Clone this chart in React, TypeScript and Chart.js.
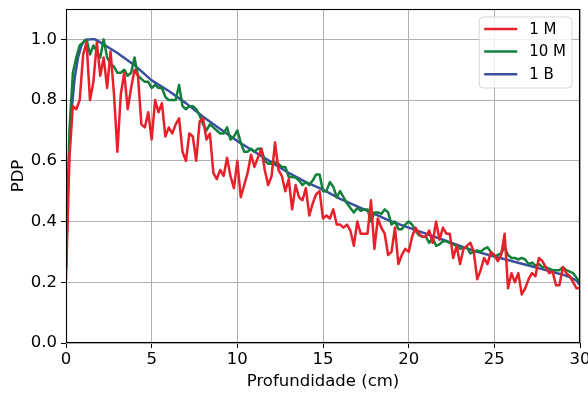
import { useEffect, useRef } from "react";
import { Chart, registerables } from "chart.js";

Chart.register(...registerables);

// ---- data ----
const seriesLabels = ["1 M", "10 M", "1 B"];
const seriesColors = ["#e8202a", "#12803a", "#3b4ea0"];
const depthStep = 0.2; // sampling grid (cm) of the 1 M and 10 M curves

const pdp1M = [
  0.21, 0.61, 0.78, 0.77, 0.80, 0.95, 0.99, 0.80, 0.86, 0.99,
  0.88, 0.94, 0.84, 0.96, 0.82, 0.63, 0.82, 0.89, 0.77, 0.84,
  0.90, 0.88, 0.72, 0.71, 0.76, 0.67, 0.80, 0.76, 0.79, 0.68,
  0.71,
  0.69, 0.72, 0.74, 0.63, 0.60, 0.69, 0.68, 0.60, 0.73, 0.74,
  0.67, 0.69, 0.56, 0.54, 0.57, 0.55, 0.61, 0.55, 0.51, 0.60,
  0.48, 0.52, 0.56, 0.62, 0.58, 0.61, 0.64, 0.57, 0.52, 0.55,
  0.66, 0.57, 0.55, 0.50, 0.54, 0.44, 0.52, 0.48, 0.47, 0.51,
  0.42, 0.46, 0.49, 0.50, 0.41, 0.42, 0.41, 0.44, 0.39, 0.39,
  0.38, 0.39, 0.37, 0.32, 0.40, 0.36, 0.36, 0.36, 0.47, 0.31,
  0.41, 0.38, 0.36, 0.29, 0.30, 0.38, 0.26, 0.29, 0.31, 0.30,
  0.35, 0.38, 0.36, 0.35, 0.35, 0.37, 0.33, 0.40, 0.34, 0.38,
  0.36, 0.36, 0.28, 0.32, 0.26, 0.31, 0.32, 0.33, 0.30, 0.21,
  0.24, 0.28, 0.26, 0.30, 0.29, 0.27, 0.29, 0.36, 0.18, 0.23,
  0.20, 0.23, 0.16, 0.18, 0.21, 0.23, 0.22, 0.28, 0.27, 0.25,
  0.23, 0.235, 0.19, 0.19, 0.25, 0.23, 0.22, 0.20, 0.18, 0.18,
];

const pdp10M = [
  0.25, 0.70, 0.89, 0.94, 0.98, 0.99, 1.00, 0.95, 0.98, 0.96,
  0.94, 1.00, 0.94, 0.92, 0.91, 0.89, 0.89, 0.90, 0.88, 0.89,
  0.94, 0.88, 0.87, 0.86, 0.86, 0.84, 0.85, 0.84, 0.84, 0.81,
  0.80,
  0.80, 0.80, 0.85, 0.78, 0.77, 0.78, 0.78, 0.77, 0.75, 0.72,
  0.70, 0.72, 0.71, 0.70, 0.69, 0.69, 0.71, 0.67, 0.68, 0.70,
  0.66, 0.63, 0.63, 0.64, 0.63, 0.64, 0.64, 0.60, 0.59, 0.59,
  0.595, 0.59, 0.58, 0.58, 0.547, 0.547, 0.545, 0.535, 0.52, 0.53,
  0.52, 0.535, 0.555, 0.555, 0.50, 0.50, 0.53, 0.515, 0.48, 0.50,
  0.48, 0.46, 0.445, 0.43, 0.445, 0.435, 0.44, 0.44, 0.40, 0.43,
  0.43, 0.425, 0.44, 0.43, 0.39, 0.40, 0.375, 0.375, 0.39, 0.40,
  0.39, 0.37, 0.355, 0.35, 0.35, 0.33, 0.345, 0.32, 0.325, 0.335,
  0.335, 0.33, 0.325, 0.32, 0.31, 0.315, 0.315, 0.295, 0.30, 0.305,
  0.30, 0.31, 0.315, 0.30, 0.285, 0.29, 0.295, 0.315, 0.29, 0.28,
  0.28, 0.275, 0.28, 0.275, 0.26, 0.265, 0.255, 0.26, 0.25, 0.25,
  0.245, 0.24, 0.24, 0.24, 0.25, 0.24, 0.235, 0.23, 0.215, 0.20,
];

const depth1B = [
  0, 0.1, 0.2, 0.35, 0.5, 0.7, 0.9, 1.1, 1.4, 1.7, 2, 3, 4, 5, 6, 7, 8, 9, 10,
  11, 12, 13, 14, 15, 16, 17, 18, 19, 20, 21, 22, 23, 24, 25, 26, 27, 28, 29,
  29.5, 29.8, 30,
];
const pdp1B = [
  0.25, 0.48, 0.64, 0.78, 0.87, 0.94, 0.98, 0.997, 1.0, 1.0, 0.99, 0.955,
  0.915, 0.865, 0.83, 0.79, 0.745, 0.705, 0.665, 0.63, 0.595, 0.56, 0.53,
  0.505, 0.475, 0.45, 0.425, 0.40, 0.38, 0.36, 0.34, 0.32, 0.30, 0.285, 0.27,
  0.255, 0.24, 0.225, 0.215, 0.205, 0.19,
];

const xLabel = "Profundidade (cm)";
const yLabel = "PDP";

// ---- chart ----
const FONT = "'DejaVu Sans', sans-serif";
const axisFont = { family: FONT, size: 16.5 };

const zeroPad = (s: any) => {
  s.paddingLeft = 0;
  s.paddingRight = 0;
  s.paddingTop = 0;
  s.paddingBottom = 0;
};

const framePlugin = {
  id: "frameAndLegend",
  afterDatasetsDraw(chart: any) {
    const { ctx, chartArea } = chart;
    const l = Math.round(chartArea.left) + 0.5;
    const t = Math.round(chartArea.top) + 0.5;
    const r = Math.round(chartArea.right) - 0.5;
    const b = Math.round(chartArea.bottom) - 0.5;
    ctx.save();
    ctx.strokeStyle = "#000";
    ctx.lineWidth = 1.1;
    ctx.strokeRect(l, t, r - l, b - t);

    // legend (upper right inside the axes)
    const ds = chart.data.datasets;
    ctx.font = `15px ${FONT}`;
    let maxW = 0;
    ds.forEach((d: any) => {
      maxW = Math.max(maxW, ctx.measureText(d.label).width);
    });
    const handle = 33;
    const padL = 5;
    const gap = 12;
    const padR = 6;
    const rowH = 22.6;
    const boxW = padL + handle + gap + maxW + padR;
    const boxH = 71;
    const boxR = chartArea.right - 8;
    const boxL = boxR - boxW;
    const boxT = chartArea.top + 8;
    ctx.beginPath();
    const rad = 4;
    ctx.moveTo(boxL + rad, boxT);
    ctx.arcTo(boxR, boxT, boxR, boxT + boxH, rad);
    ctx.arcTo(boxR, boxT + boxH, boxL, boxT + boxH, rad);
    ctx.arcTo(boxL, boxT + boxH, boxL, boxT, rad);
    ctx.arcTo(boxL, boxT, boxR, boxT, rad);
    ctx.closePath();
    ctx.fillStyle = "rgba(255,255,255,0.8)";
    ctx.fill();
    ctx.strokeStyle = "rgba(204,204,204,0.8)";
    ctx.lineWidth = 1;
    ctx.stroke();
    ds.forEach((d: any, i: number) => {
      const y = boxT + 12 + i * rowH;
      ctx.beginPath();
      ctx.strokeStyle = d.borderColor;
      ctx.lineWidth = 2.5;
      ctx.moveTo(boxL + padL, y);
      ctx.lineTo(boxL + padL + handle, y);
      ctx.stroke();
      ctx.fillStyle = "#000";
      ctx.textBaseline = "middle";
      ctx.textAlign = "left";
      ctx.fillText(d.label, boxL + padL + handle + gap, y + 1);
    });
    ctx.restore();
  },
};

export default function App() {
  const ref = useRef<HTMLCanvasElement>(null);

  useEffect(() => {
    const grid = pdp1M.map((_, i) => +(i * depthStep).toFixed(1));
    const chart = new Chart(ref.current!, {
      type: "line",
      data: {
        datasets: [
          {
            label: seriesLabels[0],
            data: pdp1M.map((v, i) => ({ x: grid[i], y: v })),
            borderColor: seriesColors[0],
          },
          {
            label: seriesLabels[1],
            data: pdp10M.map((v, i) => ({ x: grid[i], y: v })),
            borderColor: seriesColors[1],
          },
          {
            label: seriesLabels[2],
            data: pdp1B.map((v, i) => ({ x: depth1B[i], y: v })),
            borderColor: seriesColors[2],
          },
        ],
      },
      options: {
        animation: false,
        responsive: false,
        parsing: false,
        normalized: true,
        elements: {
          point: { radius: 0 },
          line: { borderWidth: 2.5, tension: 0, fill: false, borderJoinStyle: "round", borderCapStyle: "round" },
        },
        layout: { padding: { left: 0, top: 9, right: 8, bottom: 0 } },
        plugins: { legend: { display: false }, tooltip: { enabled: false } },
        scales: {
          x: {
            type: "linear",
            min: 0,
            max: 30,
            afterFit: (s: any) => {
              s.height = 51;
              zeroPad(s);
            },
            ticks: {
              stepSize: 5,
              color: "#000",
              font: axisFont,
              padding: 2,
              maxRotation: 0,
              callback: (v: any) => String(v),
            },
            grid: { color: "#b0b0b0", lineWidth: 1, tickColor: "#000", tickLength: 5 },
            border: { display: false },
            title: {
              display: true,
              text: xLabel,
              color: "#000",
              font: axisFont,
              padding: { top: 0, bottom: 2 },
            },
          },
          y: {
            type: "linear",
            min: 0,
            max: 1.1,
            afterFit: (s: any) => {
              s.width = 66;
              zeroPad(s);
            },
            ticks: {
              stepSize: 0.2,
              includeBounds: false,
              color: "#000",
              font: axisFont,
              padding: 4,
              callback: (v: any) => Number(v).toFixed(1),
            },
            grid: { color: "#b0b0b0", lineWidth: 1, tickColor: "#000", tickLength: 5 },
            border: { display: false },
            title: {
              display: true,
              text: yLabel,
              color: "#000",
              font: axisFont,
              padding: { top: 9, bottom: 0 },
            },
          },
        },
      } as any,
      plugins: [framePlugin],
    });
    return () => chart.destroy();
  }, []);

  return (
    <div
      style={{
        position: "fixed",
        left: 0,
        top: 0,
        width: 588,
        height: 394,
        background: "#fff",
      }}
    >
      <canvas
        ref={ref}
        width={588}
        height={394}
        style={{ display: "block", width: 588, height: 394 }}
      />
    </div>
  );
}
